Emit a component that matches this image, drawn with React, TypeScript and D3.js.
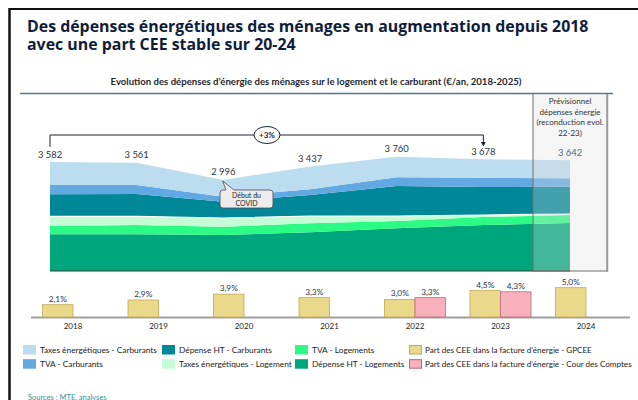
import React from 'react'
import * as d3 from 'd3'

// dépenses d'énergie par ménage (€/an)
const years = ['2018', '2019', '2020', '2021', '2022', '2023', '2024']
const htLogement = [1207, 1207, 1184, 1273, 1405, 1513, 1579]
const tvaLogement = [273, 306, 273, 296, 240, 263, 263]
const taxesLogement = [319, 286, 286, 240, 164, 66, 33]
const htCarburants = [724, 734, 536, 691, 987, 921, 898]
const tvaCarburants = [306, 296, 164, 188, 286, 306, 276]
const taxesCarburants = [753, 732, 553, 749, 678, 609, 593]

// part des CEE dans la facture (%)
const partGpcee = [2.1, 2.9, 3.9, 3.3, 3.0, 4.5, 5.0]
const partCour = [null, null, null, null, 3.3, 4.3, null]

const layers = [
  { key: 'htLogement', label: 'Dépense HT - Logements', color: '#00a67b', values: htLogement },
  { key: 'tvaLogement', label: 'TVA - Logements', color: '#2bfa85', values: tvaLogement },
  { key: 'taxesLogement', label: 'Taxes énergétiques - Logement', color: '#c6fcd5', values: taxesLogement },
  { key: 'htCarburants', label: 'Dépense HT - Carburants', color: '#008798', values: htCarburants },
  { key: 'tvaCarburants', label: 'TVA - Carburants', color: '#62a8e2', values: tvaCarburants },
  { key: 'taxesCarburants', label: 'Taxes énergétiques - Carburants', color: '#bcdcef', values: taxesCarburants },
]
const colorOf = (k) => layers.find(l => l.key === k).color

const legendCols = [
  ['taxesCarburants', 'tvaCarburants'],
  ['htCarburants', 'taxesLogement'],
  ['tvaLogement', 'htLogement'],
]

const W = 638, H = 400
const FONT = 'Lato, "Open Sans", sans-serif'
const DARK = '#2b3440'

const locale = d3.formatLocale({ decimal: ',', thousands: ' ', grouping: [3], currency: ['', ''] })
const fmtEur = locale.format(',d')
const fmtPct = locale.format('.1f')

export default function App() {
  const table = years.map((y, i) => {
    const row = { year: y }
    layers.forEach(l => { row[l.key] = l.values[i] })
    return row
  })
  const series = d3.stack().keys(layers.map(l => l.key))(table)

  const x = d3.scalePoint().domain(years).range([50, 570])
  const y = d3.scaleLinear().domain([0, 4000]).range([271, 271 - 4000 * 0.0304])

  const area = d3.area()
    .x((d) => x(d.data.year))
    .y0(d => y(d[0]))
    .y1(d => y(d[1]))
  const sepLine = d3.line().x((d) => x(d.data.year)).y(d => y(d[1]))

  const totals = table.map((r) => layers.reduce((s, l) => s + r[l.key], 0))

  // bar chart
  const xb = d3.scalePoint().domain(years).range([73, 586])
  const inner = d3.scaleBand().domain(['gpcee', 'cour']).range([-30.5, 30.5]).paddingInner(0)
  const yb = d3.scaleLinear().domain([0, 5]).range([317, 317 - 29.3])

  const x18 = x('2018'), x23 = x('2023')
  const bracketY = 135

  return (
    <svg width={W} height={H} style={{ position: 'absolute', left: 0, top: 0, background: '#fff' }}
      fontFamily={FONT}>
      {/* cadre */}
      <line x1={9.5} y1={9} x2={W} y2={9} stroke="#111" strokeWidth={2} />
      <line x1={9.5} y1={8} x2={9.5} y2={H} stroke="#111" strokeWidth={2.5} />

      <text x={27} y={31.5} fontFamily='"Open Sans", sans-serif' fontWeight={700} fontSize={15.9} fill="#101d3a">
        Des dépenses énergétiques des ménages en augmentation depuis 2018
      </text>
      <text x={27} y={49.5} fontFamily='"Open Sans", sans-serif' fontWeight={700} fontSize={15.9} fill="#101d3a">
        avec une part CEE stable sur 20-24
      </text>

      <text x={316} y={85} textAnchor="middle" fontWeight={700} fontSize={9.6} fill="#1f2630">
        Evolution des dépenses d’énergie des ménages sur le logement et le carburant (€/an, 2018-2025)
      </text>
      <line x1={20} x2={613} y1={93.5} y2={93.5} stroke="#56788a" strokeWidth={1.5} />

      {/* aires empilées */}
      {series.map(s => (
        <path key={s.key} d={area(s)} fill={colorOf(s.key)} />
      ))}
      <path d={sepLine(series[2])} fill="none" stroke="#fff" strokeWidth={1.2} />
      <line x1={x18} x2={x('2024')} y1={271} y2={271} stroke="#3a3a3a" strokeWidth={1} />

      {/* zone prévisionnelle */}
      <rect x={533} y={93.5} width={74} height={177.5} fill="rgb(221,221,221)" fillOpacity={0.3}
        stroke="#6f6f6f" strokeWidth={1} />
      <line x1={607.5} x2={607.5} y1={94} y2={272} stroke="#9a9a9a" strokeWidth={1.5} />
      {['Prévisionnel', 'dépenses énergie', '(reconduction evol.', '22-23)'].map((t, i) => (
        <text key={t} x={570} y={104 + i * 10.7} textAnchor="middle" fontSize={8} fill="#333">{t}</text>
      ))}

      {/* totaux */}
      {totals.map((t, i) => (
        <text key={years[i]} x={x(years[i])} y={y(t) - 4.5} textAnchor="middle" fontSize={9.4}
          fill={i === years.length - 1 ? '#4c6a80' : DARK}>{fmtEur(t)}</text>
      ))}

      {/* accolade +3% */}
      <path d={`M${x18},147 V${bracketY} H${x23} V143`} fill="none" stroke="#1c2633" strokeWidth={1} />
      <path d={`M${x23 - 2.5},142 L${x23 + 2.5},142 L${x23},146.5 Z`} fill="#1c2633" />
      <ellipse cx={267} cy={bracketY} rx={13} ry={8.5} fill="#fff" stroke="#1c2633" strokeWidth={1} />
      <text x={267} y={138} textAnchor="middle" fontWeight={700} fontSize={8} fill="#1c2633">+3%</text>

      {/* bulle COVID */}
      <path d="M223,190 L226,190 L222.7,181 L234,190 L270,190 Q273,190 273,193 L273,205 Q273,208 270,208 L223,208 Q220,208 220,205 L220,193 Q220,190 223,190 Z"
        fill="#ececec" stroke="#4a4a4a" strokeWidth={0.8} />
      <text x={246.5} y={198} textAnchor="middle" fontSize={7} fill="#222">Début du</text>
      <text x={246.5} y={206} textAnchor="middle" fontSize={7} fill="#222">COVID</text>

      {/* barres part CEE */}
      <line x1={31} x2={630} y1={317.5} y2={317.5} stroke="#a0a0a0" strokeWidth={1.8} />
      {years.map((yr, i) => {
        const cx = xb(yr)
        const bars = [
          { k: 'gpcee', v: partGpcee[i], fill: '#ebd98b', stroke: '#bfa955' },
          { k: 'cour', v: partCour[i], fill: '#f9b0bd', stroke: '#b86878' },
        ]
        return (
          <g key={yr}>
            {bars.filter(b => b.v != null).map(b => {
              const bx = cx + inner(b.k)
              return (
                <g key={b.k}>
                  <rect x={bx} y={yb(b.v)} width={inner.bandwidth()} height={yb(0) - yb(b.v)}
                    fill={b.fill} stroke={b.stroke} strokeWidth={0.8} />
                  <text x={bx + inner.bandwidth() / 2} y={yb(b.v) - 3} textAnchor="middle" fontSize={8.3}
                    fill={DARK}>{fmtPct(b.v)}%</text>
                </g>
              )
            })}
            <text x={cx} y={329} textAnchor="middle" fontSize={8} fill="#222">{yr}</text>
          </g>
        )
      })}

      {/* légende */}
      {legendCols.map((col, ci) => col.map((k, ri) => {
        const lx = [23, 162, 295][ci]
        const ly = 345 + ri * 14.2
        const l = layers.find(z => z.key === k)
        return (
          <g key={k}>
            <rect x={lx} y={ly} width={13} height={9.5} fill={l.color} />
            <text x={lx + 17} y={ly + 8} fontSize={8.3} fill="#222">{l.label}</text>
          </g>
        )
      }))}
      {[
        { label: 'Part des CEE dans la facture d’énergie - GPCEE', fill: '#ebd98b', stroke: '#bfa955' },
        { label: 'Part des CEE dans la facture d’énergie - Cour des Comptes', fill: '#f9b0bd', stroke: '#b86878' },
      ].map((l, ri) => (
        <g key={l.label}>
          <rect x={409.5} y={345.5 + ri * 14.2} width={12} height={8.5} fill={l.fill} stroke={l.stroke} strokeWidth={1} />
          <text x={425} y={353 + ri * 14.2} fontSize={8.1} fill="#222">{l.label}</text>
        </g>
      ))}

      <text x={28} y={400} fontSize={7.5} fill="#2f8f9f">Sources : MTE, analyses</text>
    </svg>
  )
}
